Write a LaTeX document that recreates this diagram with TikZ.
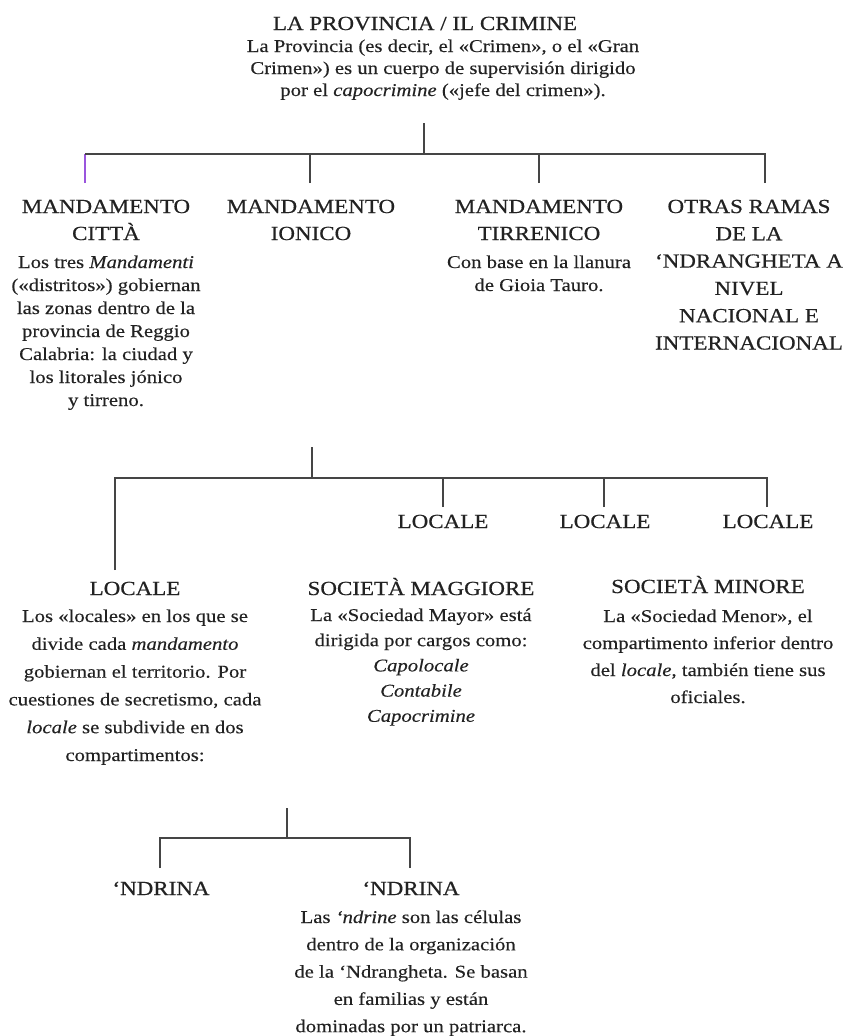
\documentclass[tikz,border=0pt]{standalone}
\usepackage{fontspec}
\setmainfont{Liberation Serif}[FakeStretch=1.15,FakeBold=0.3]
\newfontfamily\headfont{Liberation Serif}[FakeStretch=1.15,FakeBold=0.6]
\definecolor{ink}{HTML}{222222}
\definecolor{rule}{HTML}{454545}
\definecolor{tickpurple}{HTML}{9A55DD}

\begin{document}
\begin{tikzpicture}[x=1pt,y=-1pt,
   head/.style={inner sep=0pt,anchor=base,align=center,text=ink,font=\headfont\fontsize{20}{27}\selectfont},
   body/.style={inner sep=0pt,anchor=base,align=center,text=ink,font=\fontsize{18}{#1}\selectfont},
   body/.default=23,
   branch/.style={draw=rule,line width=2pt}]
   \useasboundingbox (0,0) rectangle (843,1036);

   \node[head] (prov) at (425,30) {LA PROVINCIA / IL CRIMINE};
   \node[body=22] (provtxt) at (443,96) {La Provincia (es decir, el «Crimen», o el «Gran\\Crimen») es un cuerpo de supervisión dirigido\\por el \textit{capocrimine} («jefe del crimen»).};

   \node[head] (citta) at (106,240) {MANDAMENTO\\CITTÀ};
   \node[body] (cittatxt) at (106,406) {Los tres \textit{Mandamenti}\\(«distritos») gobiernan\\las zonas dentro de la\\provincia de Reggio\\Calabria: la ciudad y\\los litorales jónico\\y tirreno.};
   \node[head] (ionico) at (311,240) {MANDAMENTO\\IONICO};
   \node[head] (tirr) at (539,240) {MANDAMENTO\\TIRRENICO};
   \node[body] (tirrtxt) at (539,291) {Con base en la llanura\\de Gioia Tauro.};
   \node[head,font=\headfont\fontsize{20}{27.3}\selectfont] (otras) at (749,349.5) {OTRAS RAMAS\\DE LA\\‘NDRANGHETA A\\NIVEL\\NACIONAL E\\INTERNACIONAL};

   \coordinate (j1) at (424,154);
   \coordinate (t1) at ([xshift=-21pt,yshift=57pt]citta.base);
   \draw[branch,shorten <=23pt] (j1 |- provtxt.south) -- (j1);
   \draw[branch,draw=tickpurple] (t1) -- (t1 |- j1);
   \draw[branch] (t1 |- j1) -- (j1);
   \draw[branch] ([xshift=-1pt,yshift=57pt]ionico.base) |- (j1);
   \draw[branch] ([yshift=57pt]tirr.base) |- (j1);
   \draw[branch] ([xshift=16pt,yshift=166.5pt]otras.base) |- (j1);

   \node[head] (locbig) at (135,595) {LOCALE};
   \node[body=27.8] (loctxt) at (135,761) {Los «locales» en los que se\\divide cada \textit{mandamento}\\gobiernan el territorio. Por\\cuestiones de secretismo, cada\\\textit{locale} se subdivide en dos\\compartimentos:};
   \node[head] (loc2) at (443,528) {LOCALE};
   \node[head] (loc3) at (605,528) {LOCALE};
   \node[head] (loc4) at (768,528) {LOCALE};
   \node[head] (smag) at (421,595) {SOCIETÀ MAGGIORE};
   \node[body=25.2] (smagtxt) at (421,721.8) {La «Sociedad Mayor» está\\dirigida por cargos como:\\\textit{Capolocale}\\\textit{Contabile}\\\textit{Capocrimine}};
   \node[head] (smin) at (708,593) {SOCIETÀ MINORE};
   \node[body=27] (smintxt) at (708,703) {La «Sociedad Menor», el\\compartimento inferior dentro\\del \textit{locale}, también tiene sus\\oficiales.};

   \coordinate (j2) at (312,478);
   \draw[branch,shorten <=37pt] (j2 |- cittatxt.south) -- (j2);
   \draw[branch] ([xshift=-20pt,yshift=25pt]locbig.base) |- (j2);
   \draw[branch] ([yshift=21pt]loc2.base) |- (j2);
   \draw[branch] ([xshift=-1pt,yshift=21pt]loc3.base) |- (j2);
   \draw[branch] ([xshift=-1pt,yshift=21pt]loc4.base) |- (j2);

   \node[head] (ndr1) at (161,895) {‘NDRINA};
   \node[head] (ndr2) at (411,895) {‘NDRINA};
   \node[body=27.3] (ndrtxt) at (411,1032.2) {Las \textit{‘ndrine} son las células\\dentro de la organización\\de la ‘Ndrangheta. Se basan\\en familias y están\\dominadas por un patriarca.};

   \coordinate (j3) at (287,838);
   \draw[branch,shorten <=43pt] (j3 |- loctxt.south) -- (j3);
   \draw[branch] ([xshift=-1pt,yshift=27pt]ndr1.base) |- (j3);
   \draw[branch] ([xshift=-1pt,yshift=27pt]ndr2.base) |- (j3);
\end{tikzpicture}
\end{document}
